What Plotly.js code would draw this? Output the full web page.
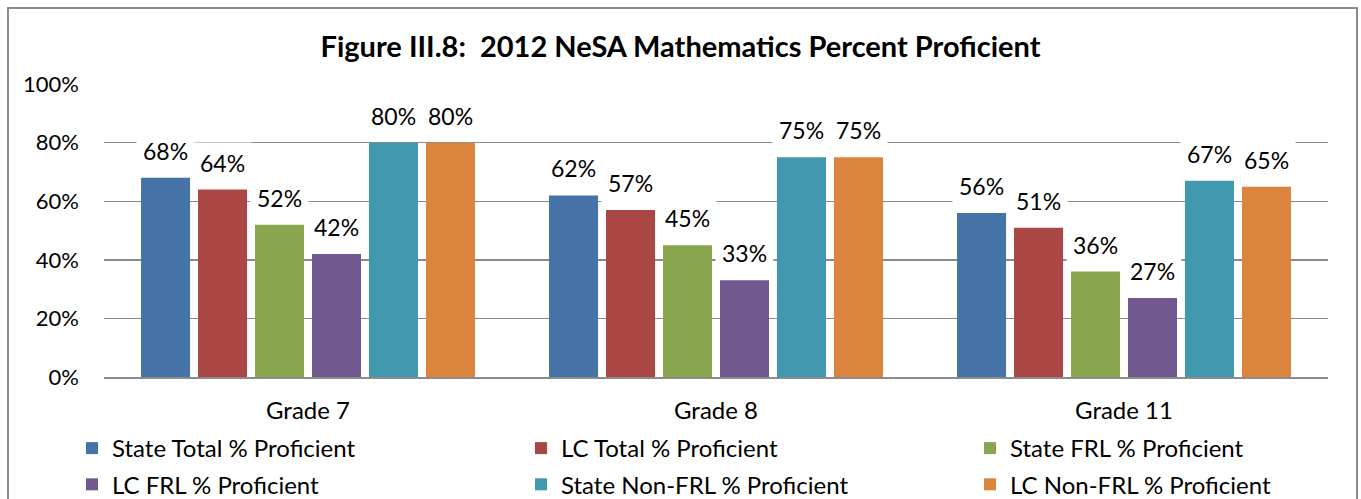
<!DOCTYPE html>
<html><head><meta charset="utf-8">
<script src="https://cdn.plot.ly/plotly-3.0.1.min.js"></script>
<style>
html,body{margin:0;padding:0;background:#fff;overflow:hidden}
#frame{position:absolute;left:7px;top:7px;width:1351px;height:520px;border:2px solid #8c8c8c;box-sizing:border-box}
#chart{position:absolute;left:0;top:0;width:1361px;height:499px}
</style></head>
<body><div id="frame"></div><div id="chart"></div>
<script>
const categories = ['Grade 7', 'Grade 8', 'Grade 11'];
const seriesNames = ['State Total % Proficient', 'LC Total % Proficient', 'State FRL % Proficient',
                     'LC FRL % Proficient', 'State Non-FRL % Proficient', 'LC Non-FRL % Proficient'];
const stateTotal  = [0.68, 0.62, 0.56];
const lcTotal     = [0.64, 0.57, 0.51];
const stateFRL    = [0.52, 0.45, 0.36];
const lcFRL       = [0.42, 0.33, 0.27];
const stateNonFRL = [0.80, 0.75, 0.67];
const lcNonFRL    = [0.80, 0.75, 0.65];
const yTickVals   = [0, 0.2, 0.4, 0.6, 0.8, 1.0];
const colors = ['#4572A7', '#AA4643', '#89A54E', '#71588F', '#4198AF', '#DB843D'];

const series = [stateTotal, lcTotal, stateFRL, lcFRL, stateNonFRL, lcNonFRL];
const FONT = 'Lato, "Open Sans", sans-serif';
const BARGAP = 0.162, GROUPGAP = 0.14;
const n = series.length;
const legendIds = ['legend', 'legend2', 'legend3'];

const traces = series.map((vals, i) => ({
  type: 'bar', name: seriesNames[i], x: categories, y: vals,
  marker: {color: colors[i]}, hoverinfo: 'name+y',
  legend: legendIds[i % 3], legendgroup: 'g' + i
}));

const annotations = [];
series.forEach((vals, i) => {
  vals.forEach((v, j) => {
    annotations.push({
      xref: 'x', yref: 'y', x: j + (i - (n - 1) / 2) * (1 - BARGAP) / n, y: v,
      text: Math.round(v * 100) + '%', showarrow: false,
      yanchor: 'middle', yshift: 27, bgcolor: '#ffffff', borderpad: 6,
      font: {family: FONT, size: 23, color: '#000'}
    });
  });
});

function legendAt(xpx) {
  return {orientation: 'v', xref: 'container', yref: 'container', x: xpx / 1361, xanchor: 'left',
          y: 1 - 426 / 499, yanchor: 'top', traceorder: 'grouped', tracegroupgap: 2,
          bgcolor: 'rgba(0,0,0,0)', font: {family: FONT, size: 24, color: '#000'}};
}

const layout = {
  width: 1361, height: 499,
  margin: {l: 104, r: 33, t: 84, b: 122, autoexpand: false},
  paper_bgcolor: 'rgba(0,0,0,0)', plot_bgcolor: 'rgba(0,0,0,0)',
  title: {text: '<b>Figure III.8:  2012 NeSA Mathematics Percent Proficient</b>',
          xref: 'container', x: 0.5, xanchor: 'center', yref: 'container', y: 1 - 47 / 499, yanchor: 'middle',
          font: {family: FONT, size: 29, color: '#000'}},
  barmode: 'group', bargap: BARGAP, bargroupgap: GROUPGAP,
  showlegend: true,
  legend: legendAt(72), legend2: legendAt(521), legend3: legendAt(970),
  xaxis: {type: 'category', showgrid: false, showline: true, linecolor: '#8c8c8c', linewidth: 1.5,
          ticks: '', ticklabelstandoff: 12, tickfont: {family: FONT, size: 24, color: '#000'}, fixedrange: true},
  yaxis: {range: [0, 1.0005], tickvals: yTickVals, tickformat: '.0%', showgrid: true, gridcolor: '#8c8c8c',
          gridwidth: 1.5, zeroline: false, ticks: '', ticklabelstandoff: 24,
          tickfont: {family: FONT, size: 22, color: '#000'}, fixedrange: true},
  annotations: annotations
};

Plotly.newPlot('chart', traces, layout, {displayModeBar: false, staticPlot: true});
</script>
</body></html>
